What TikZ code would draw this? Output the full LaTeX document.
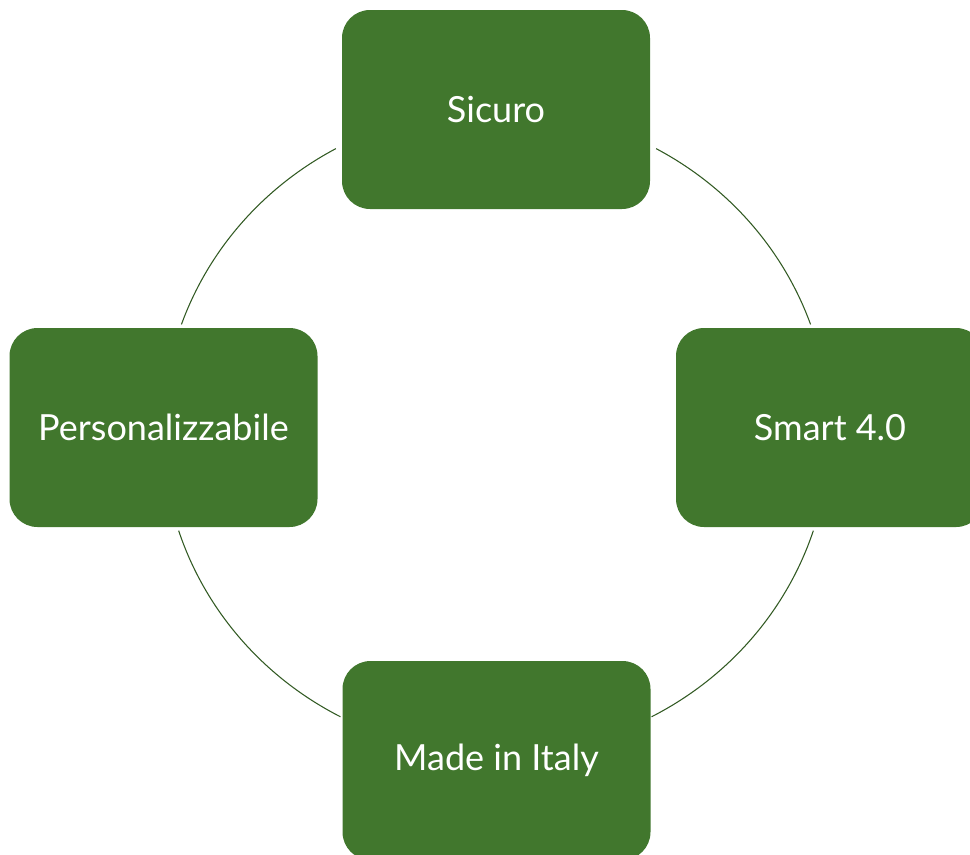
\documentclass[tikz,border=0pt]{standalone}
\usepackage{fontspec}
\setmainfont{Lato}
\usetikzlibrary{calc}
\definecolor{boxgreen}{RGB}{65,119,45}
\definecolor{linegreen}{RGB}{50,90,35}
\tikzset{
  cyclebox/.style={fill=boxgreen, draw=none, rounded corners=21pt,
    minimum width=231pt, minimum height=149.25pt, inner sep=0pt,
    text=white, font=\fontsize{27}{32}\selectfont},
  ring/.style={draw=linegreen, line width=0.8pt}
}
\begin{document}
\begin{tikzpicture}[x=0.75pt,y=-0.75pt]
\useasboundingbox (0,0) rectangle (970,854);
\clip (0,0) rectangle (970,854);
\coordinate (C) at (496,431.5);
\node[cyclebox] (top) at (496,109.5) {Sicuro};
\node[cyclebox] (left) at (163.5,427.5) {Personalizzabile};
\node[cyclebox] (right) at (830,427.5) {Smart 4.0};
\node[cyclebox] (bottom) at (496.5,760.5) {Made in Italy};
\coordinate (a1) at ($(C)+(199.4:333.5 and 322.5)$);
\coordinate (a2) at ($(C)+(117.8:333.5 and 322.5)$);
\coordinate (a3) at ($(C)+(17.9:333.5 and 322.5)$);
\coordinate (a4) at ($(C)+(298.7:333.5 and 322.5)$);
\draw[ring] (a1) arc[start angle=199.4, end angle=241.3, x radius=333.5, y radius=322.5];
\draw[ring] (a2) arc[start angle=117.8, end angle=162.1, x radius=333.5, y radius=322.5];
\draw[ring] (a3) arc[start angle=17.9, end angle=62.2, x radius=333.5, y radius=322.5];
\draw[ring] (a4) arc[start angle=298.7, end angle=340.6, x radius=333.5, y radius=322.5];
\end{tikzpicture}
\end{document}
